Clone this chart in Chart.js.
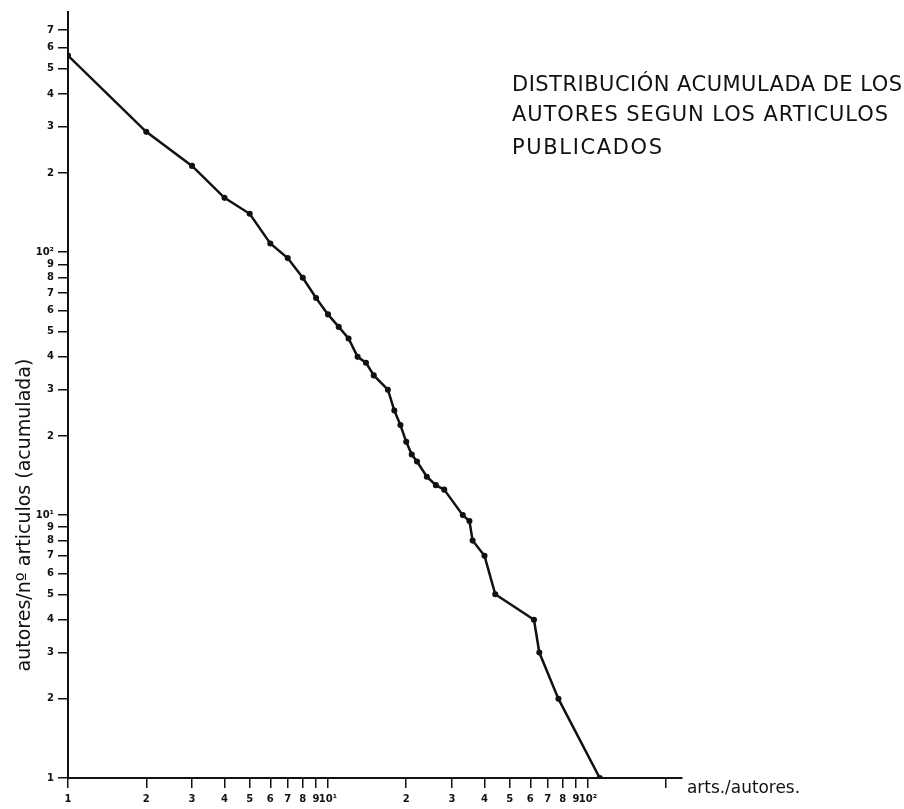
<!DOCTYPE html>
<html>
<head>
<meta charset="utf-8">
<title>Distribución acumulada de los autores</title>
<script src="https://cdn.jsdelivr.net/npm/chart.js@4.4.1/dist/chart.umd.min.js"></script>
<style>
  html, body { margin: 0; padding: 0; background: #fff; }
  #wrap { width: 904px; height: 809px; position: relative; }
</style>
</head>
<body>
<div id="wrap"><canvas id="chart1"></canvas></div>
<script>
// arts./autores (x) and cumulative authors (y)
var artsPorAutor = [1, 2, 3, 4, 5, 6, 7, 8, 9, 10, 11, 12, 13, 14, 15, 17, 18, 19, 20, 21, 22, 24, 26, 28, 33, 35, 36, 40, 44, 62, 65, 77, 111];
var autoresAcum = [560, 287, 213, 161, 140, 108, 95, 80, 67, 58, 52, 47, 40, 38, 34, 30, 25, 22, 19, 17, 16, 14, 13, 12.5, 10, 9.5, 8, 7, 5, 4, 3, 2, 1];

var xTicks = [1, 2, 3, 4, 5, 6, 7, 8, 9, 10, 20, 30, 40, 50, 60, 70, 80, 90, 100, 200];
var xTickLabels = ["1", "2", "3", "4", "5", "6", "7", "8", "9", "10¹", "2", "3", "4", "5", "6", "7", "8", "9", "10²", ""];
var yTicks = [1, 2, 3, 4, 5, 6, 7, 8, 9, 10, 20, 30, 40, 50, 60, 70, 80, 90, 100, 200, 300, 400, 500, 600, 700];
var yTickLabels = ["1", "2", "3", "4", "5", "6", "7", "8", "9", "10¹", "2", "3", "4", "5", "6", "7", "8", "9", "10²", "2", "3", "4", "5", "6", "7"];

var titleLines = ["DISTRIBUCIÓN ACUMULADA DE LOS", "AUTORES SEGUN LOS ARTICULOS", "PUBLICADOS"];
var xTitle = "arts./autores.";
var yTitle = "autores/nº articulos (acumulada)";

// fits a line of text to a given width with letter spacing
function spacedText(ctx, text, x, y, width) {
  ctx.letterSpacing = "0px";
  var w = ctx.measureText(text).width;
  var sp = (width - w) / (text.length - 1);
  ctx.letterSpacing = sp + "px";
  ctx.fillText(text, x, y);
  ctx.letterSpacing = "0px";
}

var textPlugin = {
  id: "texts",
  afterDraw: function (chart) {
    var ctx = chart.ctx;
    ctx.save();
    ctx.fillStyle = "#111";
    ctx.textBaseline = "alphabetic";
    ctx.textAlign = "left";
    ctx.font = "21px 'DejaVu Sans'";
    spacedText(ctx, titleLines[0], 512, 91, 390);
    spacedText(ctx, titleLines[1], 512, 121, 376);
    spacedText(ctx, titleLines[2], 512, 154, 150);

    ctx.font = "18px 'DejaVu Sans'";
    ctx.fillText(xTitle, 687, 793, 113);

    ctx.translate(30, 515);
    ctx.rotate(-Math.PI / 2);
    ctx.textAlign = "center";
    ctx.font = "19px 'DejaVu Sans'";
    ctx.fillText(yTitle, 0, 0, 335);
    ctx.restore();
  }
};

function drawGraph() {
  var ctx = document.getElementById("chart1").getContext("2d");
  var points = artsPorAutor.map(function (x, i) {
    return { x: x, y: autoresAcum[i] };
  });

  var myChart = new Chart(ctx, {
    type: "line",
    data: {
      datasets: [
        {
          data: points,
          borderColor: "#111",
          backgroundColor: "#111",
          borderWidth: 2.5,
          pointRadius: 1.8,
          pointBackgroundColor: "#111",
          tension: 0,
        },
      ],
    },
    plugins: [textPlugin],
    options: {
      responsive: true,
      maintainAspectRatio: false,
      animation: false,
      layout: { padding: { left: 0, top: 12, right: 222, bottom: 0 } },
      plugins: {
        legend: { display: false },
        tooltip: { enabled: false },
      },
      scales: {
        x: {
          type: "logarithmic",
          min: 1,
          max: 230,
          afterBuildTicks: function (scale) {
            scale.ticks = xTicks.map(function (v) { return { value: v }; });
          },
          afterFit: function (scale) {
            scale.height = 31;
          },
          border: { display: true, color: "#111", width: 2 },
          grid: { drawOnChartArea: false, drawTicks: true, tickLength: 10, color: "#111", lineWidth: 1.5 },
          ticks: {
            autoSkip: false,
            maxRotation: 0,
            padding: 5,
            color: "#111",
            font: { family: "'DejaVu Sans'", size: 10, weight: "bold" },
            callback: function (value, index) {
              return xTickLabels[index];
            },
          },
        },
        y: {
          type: "logarithmic",
          min: 1,
          max: 820,
          afterBuildTicks: function (scale) {
            scale.ticks = yTicks.map(function (v) { return { value: v }; });
          },
          afterFit: function (scale) {
            scale.width = 68;
          },
          border: { display: true, color: "#111", width: 2 },
          grid: { drawOnChartArea: false, drawTicks: true, tickLength: 10, color: "#111", lineWidth: 1.5 },
          ticks: {
            autoSkip: false,
            padding: 4,
            color: "#111",
            font: { family: "'DejaVu Sans'", size: 10, weight: "bold" },
            callback: function (value, index) {
              return yTickLabels[index];
            },
          },
        },
      },
    },
  });
}
window.onload = drawGraph;
</script>
</body>
</html>
